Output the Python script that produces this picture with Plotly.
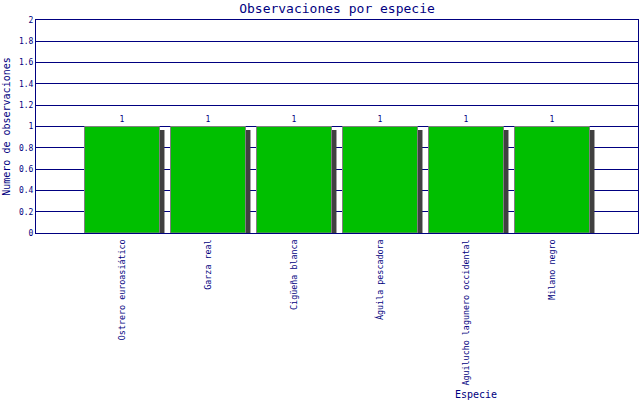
import plotly.graph_objects as go

especies = [
    "Ostrero euroasiático",
    "Garza real",
    "Cigüeña blanca",
    "Águila pescadora",
    "Aguilucho lagunero occidental",
    "Milano negro",
]
observaciones = [1, 1, 1, 1, 1, 1]

NAVY = "#000080"
FONT = "DejaVu Sans Mono"
bar_w = 0.872

fig = go.Figure()

# sombra detrás de cada barra
fig.add_trace(go.Bar(
    x=especies,
    y=[v - 0.033 for v in observaciones],
    width=bar_w,
    offset=-bar_w / 2 + 0.058,
    marker=dict(color="#404040", line=dict(width=0)),
    hoverinfo="skip",
    showlegend=False,
))

fig.add_trace(go.Bar(
    x=especies,
    y=observaciones,
    width=bar_w,
    marker=dict(color="#00BF00", line=dict(color="#808080", width=1)),
    text=[str(v) for v in observaciones],
    textposition="outside",
    textfont=dict(family=FONT, size=8, color=NAVY),
    cliponaxis=False,
    showlegend=False,
))

fig.update_layout(
    width=640,
    height=400,
    barmode="overlay",
    plot_bgcolor="white",
    paper_bgcolor="white",
    margin=dict(l=36, r=2, t=20, b=167, autoexpand=False),
    font=dict(family=FONT, color=NAVY),
    title=dict(
        text="Observaciones por especie",
        x=0.5, xref="paper", xanchor="center",
        y=1 - 8.5 / 400, yref="container", yanchor="middle", automargin=False,
        font=dict(family=FONT, size=13, color=NAVY),
    ),
    annotations=[dict(
        text="Especie", x=0.731, y=-0.756, xref="paper", yref="paper",
        xanchor="center", yanchor="middle", showarrow=False,
        font=dict(family=FONT, size=10, color=NAVY),
    )],
)

fig.update_xaxes(
    range=[-1, 6],
    tickangle=-90,
    tickfont=dict(family=FONT, size=8.4, color=NAVY),
    showline=True, linecolor=NAVY, linewidth=1, mirror=True,
    showgrid=False, ticks="", ticklabelstandoff=2, automargin=False,
)
fig.update_yaxes(
    range=[0, 2],
    dtick=0.2,
    tickfont=dict(family=FONT, size=8, color=NAVY),
    showline=True, linecolor=NAVY, linewidth=1, mirror=True,
    showgrid=True, gridcolor=NAVY, gridwidth=1,
    zeroline=False, ticks="", automargin=False,
    title=dict(text="Numero de observaciones", standoff=6,
               font=dict(family=FONT, size=10, color=NAVY)),
)

# sin margen del body para que la figura ocupe la ventana entera
fig.write_html(
    "out.html",
    config={"displayModeBar": False},
    post_script="document.body.style.margin='0';document.body.style.overflow='hidden';",
)
